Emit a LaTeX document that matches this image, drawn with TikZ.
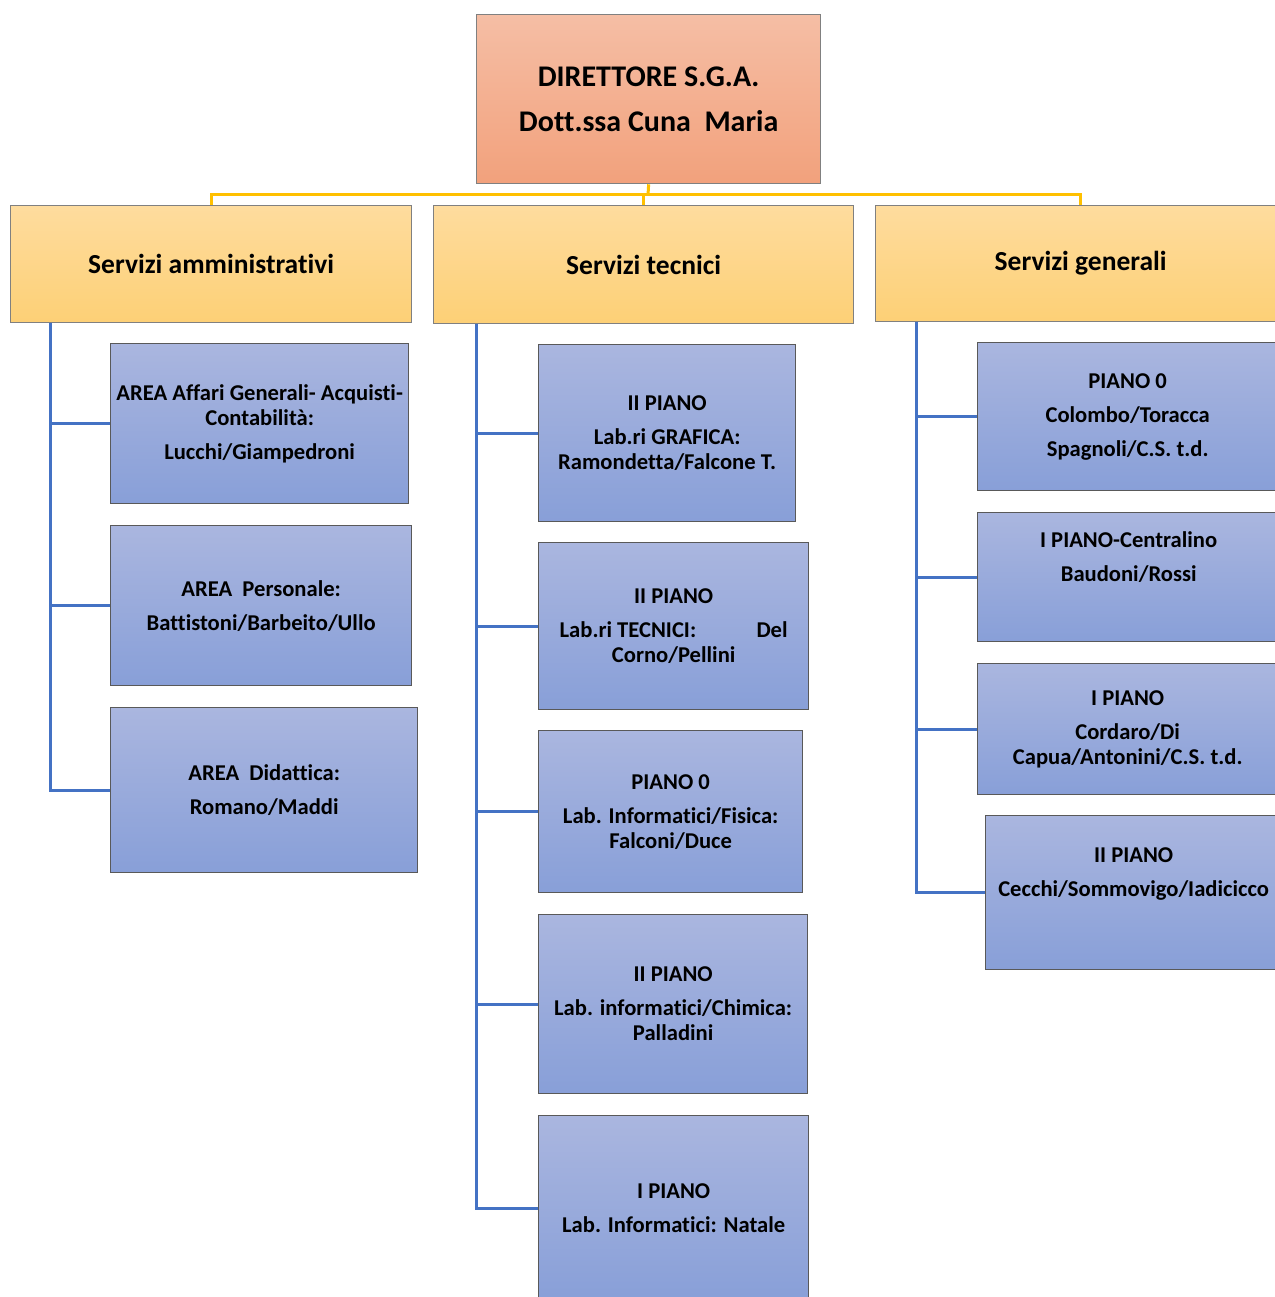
\documentclass[tikz,border=0pt]{standalone}
\usepackage{fontspec}
\setmainfont{Carlito}[Ligatures=NoCommon]
\definecolor{dirtop}{RGB}{245,190,165}
\definecolor{dirbot}{RGB}{242,161,124}
\definecolor{svtop}{RGB}{254,220,158}
\definecolor{svbot}{RGB}{253,208,118}
\definecolor{artop}{RGB}{170,182,223}
\definecolor{arbot}{RGB}{136,159,216}
\definecolor{bus}{RGB}{255,192,0}
\definecolor{branchblue}{RGB}{68,114,196}
\tikzset{
    dirbox/.style={draw=black!50,line width=1.3pt,top color=dirtop,bottom color=dirbot,
        anchor=north west,inner sep=0pt,align=center,font=\fontsize{30}{45}\selectfont\bfseries},
    svbox/.style={draw=black!50,line width=1.3pt,top color=svtop,bottom color=svbot,
        anchor=north west,inner sep=0pt,align=center,font=\fontsize{27.5}{32}\selectfont\bfseries},
    areabox/.style={draw=black!65,line width=1.3pt,top color=artop,bottom color=arbot,
        anchor=north west,inner sep=0pt,align=center,font=\fontsize{22.6}{25}\selectfont\bfseries},
    busline/.style={draw=bus,line width=3pt},
    branch/.style={draw=branchblue,line width=3pt}
}
\begin{document}
\begin{tikzpicture}[x=1pt,y=-1pt]
    \useasboundingbox (0,0) rectangle (1274,1297);
    %% Director
    \node[dirbox,minimum width=344pt,minimum height=169pt] (dir) at (476,14)
        {DIRETTORE S.G.A.\\Dott.ssa Cuna\ \ Maria};
    %% Services
    \node[svbox,minimum width=401pt,minimum height=117pt] (sva) at (10,205) {Servizi amministrativi};
    \node[svbox,minimum width=420pt,minimum height=118pt] (svt) at (433,205) {Servizi tecnici};
    \node[svbox,minimum width=410pt,minimum height=116pt] (svg) at (875,205) {Servizi generali};
    \coordinate (hub) at (648,195);
    \draw[busline] (dir.south) -- (hub);
    \draw[busline] (sva.north) |- (hub) -| (svg.north);
    \draw[busline] (svt.north) -- (svt.north |- hub);
    %% Servizi amministrativi
    \node[areabox,minimum width=298pt,minimum height=160pt] (a1) at (110,343)
        {AREA Affari Generali- Acquisti-\\Contabilità:\\[9pt]Lucchi/Giampedroni};
    \node[areabox,minimum width=301pt,minimum height=160pt] (a2) at (110,525)
        {AREA\ \ Personale:\\[9pt]Battistoni/Barbeito/Ullo};
    \node[areabox,minimum width=307pt,minimum height=165pt] (a3) at (110,707)
        {AREA\ \ Didattica:\\[9pt]Romano/Maddi};
    %% Servizi tecnici
    \node[areabox,minimum width=257pt,minimum height=177pt] (t1) at (538,344)
        {II PIANO\\[9pt]Lab.ri GRAFICA:\\Ramondetta/Falcone T.};
    \node[areabox,minimum width=270pt,minimum height=167pt] (t2) at (538,542)
        {II PIANO\\[9pt]\makebox[228pt]{Lab.ri TECNICI:\hfill Del}\\Corno/Pellini};
    \node[areabox,minimum width=264pt,minimum height=162pt] (t3) at (538,730)
        {PIANO 0\\[9pt]Lab. Informatici/Fisica:\\Falconi/Duce};
    \node[areabox,minimum width=269pt,minimum height=179pt] (t4) at (538,914)
        {II PIANO\\[9pt]Lab. informatici/Chimica:\\Palladini};
    \node[areabox,minimum width=270pt,minimum height=185pt] (t5) at (538,1115)
        {I PIANO\\[9pt]Lab. Informatici: Natale};
    %% Servizi generali
    \node[areabox,minimum width=300pt,minimum height=148pt] (g1) at (977,342)
        {PIANO 0\\[9pt]Colombo/Toracca\\[9pt]Spagnoli/C.S. t.d.};
    \node[areabox,minimum width=302pt,minimum height=129pt] (g2) at (977,512)
        {I PIANO-Centralino\\[9pt]Baudoni/Rossi\\[9pt]\strut};
    \node[areabox,minimum width=300pt,minimum height=131pt] (g3) at (977,663)
        {I PIANO\\[9pt]Cordaro/Di\\Capua/Antonini/C.S. t.d.};
    \node[areabox,minimum width=296pt,minimum height=154pt] (g4) at (985,815)
        {II PIANO\\[9pt]Cecchi/Sommovigo/Iadicicco\\[9pt]\strut};
    %% Branches
    \coordinate (spa) at ([xshift=40pt]sva.south west);
    \coordinate (spt) at ([xshift=43pt]svt.south west);
    \coordinate (spg) at ([xshift=41pt]svg.south west);
    \draw[branch] (spa) |- (a3.west);
    \foreach \n in {a1,a2}
        \draw[branch] (spa |- \n.west) -- (\n.west);
    \draw[branch] (spt) |- (t5.west);
    \foreach \n in {t1,t2,t3,t4}
        \draw[branch] (spt |- \n.west) -- (\n.west);
    \draw[branch] (spg) |- (g4.west);
    \foreach \n in {g1,g2,g3}
        \draw[branch] (spg |- \n.west) -- (\n.west);
\end{tikzpicture}
\end{document}
